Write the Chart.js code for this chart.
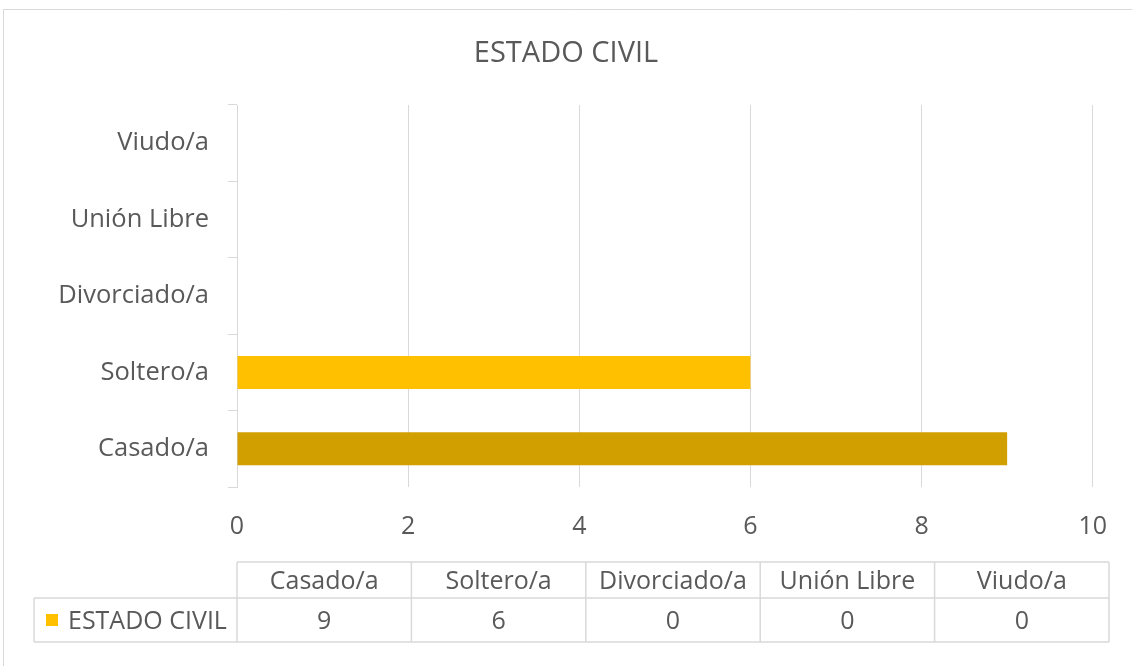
<!DOCTYPE html>
<html>
<head>
<meta charset="utf-8">
<script src="https://cdn.jsdelivr.net/npm/chart.js@4/dist/chart.umd.min.js"></script>
<style>
  html, body { margin: 0; padding: 0; background: #ffffff; }
  #wrap { width: 1132px; height: 666px; position: relative; }
</style>
</head>
<body>
<div id="wrap"><canvas id="c" width="1132" height="666"></canvas></div>
<script>
const chartTitle = 'ESTADO CIVIL';
const seriesName = 'ESTADO CIVIL';
const categories = ['Casado/a', 'Soltero/a', 'Divorciado/a', 'Unión Libre', 'Viudo/a'];
const values = [9, 6, 0, 0, 0];
const barColors = ['#D29F00', '#FFC000', '#FFC000', '#FFC000', '#FFC000'];
const legendColor = '#FFC000';
const xTicks = [0, 2, 4, 6, 8, 10];

const FONT = "'Open Sans', 'DejaVu Sans', sans-serif";
const TEXT = '#595959';
const GRID = '#D9D9D9';

const frameAndTable = {
  id: 'frameAndTable',
  afterDraw(chart) {
    const ctx = chart.ctx;
    ctx.save();
    // outer chart frame (left & top edges visible)
    ctx.strokeStyle = GRID;
    ctx.lineWidth = 1;
    ctx.beginPath();
    ctx.moveTo(3.5, 700);
    ctx.lineTo(3.5, 9.5);
    ctx.lineTo(1140, 9.5);
    ctx.stroke();

    // data table
    const left = 34, colStart = chart.chartArea.left, right = 1109;
    const top = 562, mid = 598, bottom = 642;
    const n = categories.length;
    const colW = (right - colStart) / n;
    ctx.strokeStyle = GRID;
    ctx.lineWidth = 1.5;
    ctx.beginPath();
    ctx.moveTo(colStart, top); ctx.lineTo(right, top);
    ctx.moveTo(left, mid); ctx.lineTo(right, mid);
    ctx.moveTo(left, bottom); ctx.lineTo(right, bottom);
    ctx.moveTo(left, mid); ctx.lineTo(left, bottom);
    for (let i = 0; i <= n; i++) {
      const x = colStart + i * colW;
      ctx.moveTo(x, top); ctx.lineTo(x, bottom);
    }
    ctx.stroke();

    ctx.fillStyle = TEXT;
    ctx.font = '25px ' + FONT;
    ctx.textAlign = 'center';
    ctx.textBaseline = 'middle';
    for (let i = 0; i < n; i++) {
      const cx = colStart + (i + 0.5) * colW;
      ctx.fillText(categories[i], cx, (top + mid) / 2 + 2);
      ctx.fillText(String(values[i]), cx, (mid + bottom) / 2 + 2);
    }
    // legend key
    ctx.fillStyle = legendColor;
    ctx.fillRect(46, 614, 12, 12);
    ctx.fillStyle = TEXT;
    ctx.textAlign = 'left';
    ctx.fillText(seriesName, 68, (mid + bottom) / 2 + 2);
    ctx.restore();
  }
};

new Chart(document.getElementById('c'), {
  type: 'bar',
  data: {
    labels: categories,
    datasets: [{
      label: seriesName,
      data: values,
      backgroundColor: barColors,
      borderWidth: 0,
      barPercentage: 0.432,
      categoryPercentage: 1.0
    }]
  },
  options: {
    indexAxis: 'y',
    responsive: false,
    animation: false,
    events: [],
    layout: { padding: { left: 37, right: 37, top: 0, bottom: 0 } },
    plugins: {
      legend: { display: false },
      tooltip: { enabled: false },
      title: {
        display: true,
        text: chartTitle,
        color: TEXT,
        font: { family: FONT, size: 29, weight: 'normal', lineHeight: 1.2 },
        padding: { top: 36, bottom: 34.2 }
      }
    },
    scales: {
      x: {
        type: 'linear',
        min: 0,
        max: 10,
        afterBuildTicks: (s) => { s.ticks = xTicks.map(v => ({ value: v })); },
        afterFit: (s) => { s.height = 666 - 487; },
        grid: { color: GRID, lineWidth: 1, drawTicks: false },
        border: { display: false },
        ticks: { color: TEXT, font: { family: FONT, size: 25 }, padding: 25 }
      },
      y: {
        type: 'category',
        reverse: true,
        afterFit: (s) => { s.width = 200; },
        grid: { drawOnChartArea: false, drawTicks: true, tickLength: 9, color: GRID, offset: true },
        border: { display: true, color: GRID, width: 1 },
        ticks: { color: TEXT, font: { family: FONT, size: 25.5 }, padding: 19 }
      }
    }
  },
  plugins: [frameAndTable]
});
</script>
</body>
</html>
